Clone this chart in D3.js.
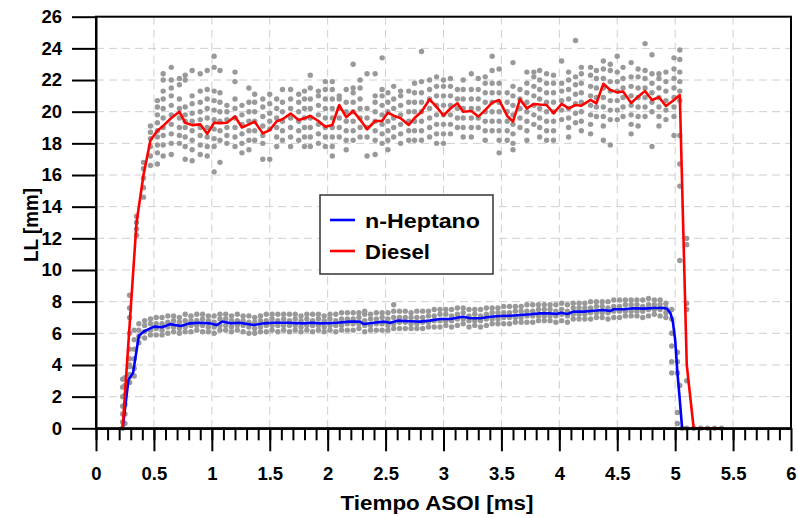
<!DOCTYPE html>
<html>
<head>
<meta charset="utf-8">
<script src="https://cdn.jsdelivr.net/npm/d3@7"></script>
<style>
  body { margin: 0; background: #fff; }
  text { font-family: "Liberation Sans", Arial, sans-serif; font-weight: bold; fill: #000; }
</style>
</head>
<body>
<svg id="chart" width="798" height="518"></svg>
<script>
// tick labels
const xTicks = [0, 0.5, 1, 1.5, 2, 2.5, 3, 3.5, 4, 4.5, 5, 5.5, 6];
const yTicks = [0, 2, 4, 6, 8, 10, 12, 14, 16, 18, 20, 22, 24, 26];
const seriesNames = ['n-Heptano', 'Diesel'];

// mean curves [time ms, LL mm]
const heptaneLine = [
  [0.23, 0], [0.28, 3.05], [0.32, 3.5], [0.37, 5.85], [0.41, 6.1], [0.45, 6.25], [0.50, 6.42],
  [0.57, 6.38], [0.64, 6.58], [0.73, 6.46], [0.81, 6.63], [0.90, 6.67], [0.98, 6.63], [1.04, 6.52],
  [1.09, 6.74], [1.16, 6.63], [1.24, 6.67], [1.36, 6.52], [1.45, 6.63], [1.53, 6.67], [1.65, 6.67],
  [1.79, 6.63], [1.85, 6.67], [1.96, 6.63], [2.08, 6.67], [2.19, 6.74], [2.28, 6.74], [2.31, 6.59],
  [2.40, 6.67], [2.48, 6.74], [2.54, 6.67], [2.60, 6.8], [2.71, 6.76], [2.80, 6.74], [2.88, 6.8],
  [2.97, 6.9], [3.06, 6.9], [3.14, 7.01], [3.17, 7.05], [3.23, 6.95], [3.32, 6.95], [3.40, 7.05],
  [3.49, 7.09], [3.58, 7.11], [3.66, 7.16], [3.75, 7.2], [3.83, 7.26], [3.92, 7.26], [3.98, 7.22],
  [4.01, 7.3], [4.07, 7.22], [4.12, 7.37], [4.21, 7.37], [4.29, 7.43], [4.38, 7.47], [4.44, 7.41],
  [4.47, 7.52], [4.55, 7.52], [4.64, 7.58], [4.73, 7.56], [4.81, 7.6], [4.90, 7.6], [4.93, 7.55],
  [4.96, 7.26], [4.98, 6.74], [5.00, 5.58], [5.02, 3.47], [5.04, 1.79], [5.06, 0]
];

const dieselLine = [
  [0.23, 0], [0.29, 6.5], [0.35, 13.0], [0.41, 16.0], [0.47, 18.2], [0.53, 18.8], [0.58, 19.1],
  [0.65, 19.6], [0.72, 20.0], [0.77, 19.3], [0.83, 19.15], [0.90, 19.2], [0.96, 18.6], [1.02, 19.3],
  [1.07, 19.28], [1.13, 19.3], [1.20, 19.7], [1.26, 19.0], [1.32, 19.2], [1.37, 19.37], [1.44, 18.63],
  [1.50, 18.84], [1.56, 19.4], [1.61, 19.52], [1.68, 19.88], [1.75, 19.48], [1.80, 19.58], [1.85, 19.74],
  [1.92, 19.41], [1.98, 19.05], [2.04, 19.16], [2.10, 20.42], [2.16, 19.65], [2.22, 20.04], [2.28, 19.5],
  [2.34, 18.89], [2.41, 19.41], [2.47, 19.41], [2.52, 19.94], [2.57, 19.75], [2.63, 19.58], [2.70, 19.16],
  [2.75, 19.6], [2.81, 20.0], [2.88, 20.78], [2.94, 20.3], [3.00, 19.76], [3.06, 20.2], [3.12, 20.53],
  [3.17, 20.0], [3.24, 20.04], [3.30, 19.69], [3.36, 20.1], [3.42, 20.57], [3.48, 20.74], [3.55, 19.73],
  [3.60, 19.37], [3.66, 20.78], [3.72, 20.21], [3.78, 20.49], [3.83, 20.45], [3.89, 20.42], [3.95, 19.9],
  [4.02, 20.49], [4.08, 20.21], [4.14, 20.42], [4.19, 20.38], [4.27, 20.74], [4.32, 20.53], [4.38, 21.76],
  [4.44, 21.37], [4.50, 21.22], [4.55, 21.27], [4.62, 20.55], [4.68, 20.95], [4.74, 21.3], [4.80, 20.74],
  [4.86, 20.91], [4.92, 20.36], [4.99, 20.74], [5.04, 21.05], [5.10, 4.0], [5.16, 0], [5.22, 0],
  [5.28, 0], [5.34, 0], [5.40, 0]
];

// individual shots, one column per frame: [time, "LL values"]
const dieselCloud = [
  [0.23, '0 0.4 0.9 1.4 2.0 2.6 3.1'], [0.29, '3.3 4.0 5.0 6.0 7.0 7.6 8.4'], [0.35, '12.2 12.6 13.0 13.4'],
  [0.41, '14.6 15.2 15.8 16.4 16.8'], [0.47, '16.6 17.2 17.8 18.3 18.7 19.1'],
  [0.53, '16.7 17.4 17.9 18.4 18.8 19.3 19.8 20.3 20.7'], [0.58, '17.2 17.9 18.5 19.0 19.6 20.2 20.8 21.3 22.0 22.4'],
  [0.65, '17.3 18.0 18.6 19.2 19.8 20.4 21.0 21.5 22.0 22.8'], [0.72, '18.0 18.5 19.0 19.6 20.2 20.8 21.7 22.1'],
  [0.77, '17.0 17.8 18.4 19.0 19.4 19.8 20.3 22.0 22.3'], [0.83, '16.9 17.6 18.2 18.8 19.4 19.9 20.5 21.0 22.6'],
  [0.90, '17.3 17.9 18.5 19.0 19.5 20.0 20.6 21.3 22.4'], [0.96, '17.2 17.8 18.4 19.0 19.6 20.2 20.8 21.4 22.6'],
  [1.02, '16.2 17.8 18.3 18.9 19.5 20.1 20.7 21.3 22.8 23.5'], [1.07, '16.8 18.2 18.8 19.4 20.0 20.6 21.2 22.6'],
  [1.13, '18.0 18.5 19.0 19.5 20.0 20.4'], [1.20, '17.8 18.4 19.0 19.6 20.2 20.8 21.9 22.5'],
  [1.26, '17.4 18.0 18.6 19.2 19.8 20.4'], [1.32, '17.6 18.2 18.8 19.4 20.0 20.6 21.5'],
  [1.37, '18.2 18.8 19.4 20.0 20.6 21.1'], [1.44, '17.0 18.0 18.5 19.1 19.7 20.3 20.8'],
  [1.50, '17.0 18.9 19.4 19.9 20.5 21.1'], [1.56, '17.8 18.4 19.0 19.6 20.2 20.8'],
  [1.61, '18.2 18.8 19.4 20.0 20.6 21.4'], [1.68, '17.8 18.4 19.0 19.6 20.2 20.8 21.4'],
  [1.75, '18.2 18.8 19.4 20.0 20.6 21.1'], [1.80, '17.8 18.4 19.0 19.6 20.2 20.8 21.3'],
  [1.85, '17.8 18.4 19.0 19.6 20.2 20.8 21.5 22.3'], [1.92, '18.0 18.6 19.2 19.8 20.4 21.0 21.3'],
  [1.98, '17.8 18.4 19.0 19.6 20.2 20.8 21.4 21.9'], [2.04, '17.2 17.8 18.4 19.0 19.6 20.2 20.8 21.4 21.9'],
  [2.10, '18.4 19.0 19.6 20.2 20.8 21.0'], [2.16, '17.6 18.2 18.8 19.4 20.0 20.6 21.4'],
  [2.22, '18.2 18.8 19.4 20.0 20.6 21.2 21.5 23.0'], [2.28, '18.4 19.0 19.6 20.2 20.8 21.5 22.0'],
  [2.34, '17.2 18.4 19.0 19.6 20.2 22.4'], [2.41, '17.3 18.2 18.8 19.4 20.0 20.6 21.0 22.4'],
  [2.47, '18.0 18.6 19.2 19.8 20.4 21.0 21.4 23.4'], [2.52, '17.6 18.2 18.8 19.4 20.0 20.6 21.2'],
  [2.57, '18.4 19.0 19.6 20.2 20.8 21.6'], [2.63, '18.0 18.6 19.2 19.8 20.4 21.0 21.3'],
  [2.70, '18.2 18.8 19.4 20.0 20.6 21.3'], [2.75, '18.2 18.8 19.4 20.0 20.6 21.2 21.8'],
  [2.81, '18.2 18.8 19.4 20.0 20.6 21.2 21.9 23.8'], [2.88, '18.4 19.0 19.6 20.2 20.8 21.4 22.0'],
  [2.94, '18.0 18.6 19.2 19.8 20.4 21.0 21.6 22.2'], [3.00, '18.0 18.6 19.2 19.8 20.4 21.0 21.6 22.0'],
  [3.06, '18.6 19.2 19.8 20.4 21.0 21.6 22.1'], [3.12, '19.0 19.6 20.2 20.8 21.4'],
  [3.17, '18.4 19.0 19.6 20.2 20.8 21.4 22.0'], [3.24, '18.4 19.0 19.6 20.2 20.8 21.4 22.4'],
  [3.30, '19.0 19.6 20.2 20.8 21.4 22.1'], [3.36, '18.2 18.8 19.4 20.0 20.6 21.2 21.8 22.2'],
  [3.42, '18.8 19.4 20.0 20.6 21.2 21.8 22.6 23.5'], [3.48, '17.4 18.2 18.8 19.4 20.0 20.6 21.2 21.8 22.7'],
  [3.55, '18.2 18.8 19.4 20.0 20.6 21.2'], [3.60, '17.6 18.0 18.6 19.2 19.8 20.4 21.0 21.6 23.1'],
  [3.66, '19.0 19.6 20.2 20.8 21.4'], [3.72, '18.2 18.8 19.4 20.0 20.6 21.2 21.8 22.5'],
  [3.78, '19.2 19.8 20.4 21.0 21.6 22.2 22.5'], [3.83, '18.4 19.0 19.6 20.2 20.8 21.4 22.0 22.6'],
  [3.89, '18.2 18.8 19.4 20.0 20.6 21.2 21.8 22.4'], [3.95, '18.2 18.8 19.4 20.0 20.6 21.2 21.8 22.3'],
  [4.02, '19.5 20.1 20.7 21.3 21.8 23.2'], [4.08, '18.4 19.0 19.6 20.2 20.8 21.4 22.0 22.5'],
  [4.14, '19.3 19.9 20.5 21.1 21.7 22.2 24.5'], [4.19, '18.8 19.4 20.0 20.6 21.2 21.8 22.4 22.8'],
  [4.27, '18.6 19.2 19.8 20.4 21.0 21.6 22.3 22.8'], [4.32, '19.7 20.3 20.9 21.5 22.1 22.6'],
  [4.38, '18.2 19.1 19.7 20.3 20.9 21.5 22.1 22.7 23.2'], [4.44, '17.9 19.5 20.1 20.7 21.3 21.9 22.6 23.0'],
  [4.50, '19.5 20.1 20.7 21.3 21.9 22.5 23.5'], [4.55, '19.7 20.3 20.9 21.5 22.1 22.8'],
  [4.62, '18.6 19.2 19.8 20.4 21.0 21.6 22.2 23.1'], [4.68, '19.1 19.7 20.3 20.9 21.5 22.2 22.7'],
  [4.74, '19.7 20.3 20.9 21.5 22.1 22.6 24.3'], [4.80, '17.8 20.0 20.6 21.2 21.8 22.4 23.6'],
  [4.86, '19.1 19.7 20.3 20.9 21.5 22.1 22.4'], [4.92, '19.5 20.1 20.7 21.3 21.9 22.5'],
  [4.99, '18.5 19.7 20.3 20.9 21.5 22.1 22.7 23.4'], [5.04, '2.7 10.6 15.3 16.7 18.5 20.7 21.3 21.9 22.5 23.3 23.9'],
  [5.10, '0 3.0 7.5 7.9 11.6 12.0'], [5.16, '0'], [5.22, '0'], [5.28, '0'], [5.34, '0'], [5.40, '0']
];

const heptaneCloud = [
  [0.25, '0.3 0.9 1.5 2.1 2.7 3.2'], [0.29, '2.9 3.4 3.9 4.4'], [0.33, '3.3 3.8 4.4 5.0 5.6 6.2'],
  [0.37, '5.4 5.8 6.2 6.6'], [0.42, '5.7 6.1 6.5 6.8'], [0.47, '5.9 6.2 6.6 6.9'], [0.52, '5.9 6.3 6.6 7.0'],
  [0.57, '5.9 6.2 6.6 7.0'], [0.62, '6.0 6.4 6.7 7.1'], [0.67, '6.1 6.4 6.8 7.1'], [0.72, '6.0 6.3 6.7 7.0'],
  [0.77, '6.1 6.4 6.8 7.2'], [0.82, '6.1 6.5 6.8 7.1'], [0.87, '6.2 6.5 6.8 7.2'], [0.92, '6.1 6.5 6.9 7.2'],
  [0.97, '6.1 6.4 6.8 7.1'], [1.02, '6.0 6.4 6.7 7.1'], [1.07, '6.2 6.5 6.9 7.2'], [1.12, '6.2 6.5 6.9 7.2'],
  [1.17, '6.1 6.4 6.8 7.1'], [1.22, '6.2 6.5 6.8 7.2'], [1.27, '6.1 6.5 6.8 7.1'], [1.32, '6.0 6.4 6.7 7.1'],
  [1.37, '6.0 6.3 6.7 7.0'], [1.42, '6.1 6.4 6.8 7.1'], [1.47, '6.1 6.5 6.8 7.2'], [1.52, '6.2 6.5 6.9 7.2'],
  [1.57, '6.1 6.5 6.8 7.2'], [1.62, '6.2 6.5 6.9 7.2'], [1.67, '6.1 6.5 6.8 7.2'], [1.72, '6.2 6.5 6.9 7.2'],
  [1.77, '6.1 6.4 6.8 7.1'], [1.82, '6.2 6.5 6.9 7.2'], [1.87, '6.1 6.5 6.8 7.2'], [1.92, '6.2 6.5 6.9 7.2'],
  [1.97, '6.1 6.4 6.8 7.1'], [2.02, '6.2 6.5 6.9 7.2'], [2.07, '6.1 6.5 6.8 7.2'], [2.12, '6.2 6.5 6.9 7.3'],
  [2.17, '6.2 6.6 6.9 7.3'], [2.22, '6.2 6.6 6.9 7.3'], [2.27, '6.3 6.6 7.0 7.3'], [2.32, '6.1 6.5 6.8 7.2 7.4'],
  [2.37, '6.2 6.5 6.9 7.2'], [2.42, '6.2 6.6 6.9 7.3'], [2.47, '6.2 6.6 7.0 7.3'], [2.52, '6.2 6.5 6.9 7.3'],
  [2.57, '6.3 6.6 7.0 7.4 7.8'], [2.62, '6.3 6.7 7.0 7.4'], [2.67, '6.3 6.7 7.0 7.4'], [2.72, '6.3 6.6 7.0 7.3'],
  [2.77, '6.3 6.6 7.0 7.4'], [2.82, '6.3 6.7 7.0 7.4'], [2.87, '6.4 6.7 7.1 7.4'], [2.92, '6.4 6.8 7.1 7.5'],
  [2.97, '6.4 6.8 7.2 7.5'], [3.02, '6.5 6.8 7.2 7.5'], [3.07, '6.4 6.8 7.1 7.5'], [3.12, '6.5 6.9 7.2 7.6'],
  [3.17, '6.6 6.9 7.3 7.6'], [3.22, '6.4 6.8 7.1 7.5'], [3.27, '6.5 6.8 7.2 7.5'], [3.32, '6.4 6.8 7.1 7.5'],
  [3.37, '6.5 6.9 7.2 7.6'], [3.42, '6.6 6.9 7.3 7.6'], [3.47, '6.6 6.9 7.3 7.6'], [3.52, '6.6 7.0 7.3 7.7'],
  [3.57, '6.6 7.0 7.3 7.7'], [3.62, '6.7 7.0 7.4 7.7'], [3.67, '6.7 7.0 7.4 7.7'], [3.72, '6.7 7.1 7.4 7.8'],
  [3.77, '6.7 7.1 7.4 7.8'], [3.82, '6.8 7.1 7.5 7.8'], [3.87, '6.8 7.1 7.5 7.8'], [3.92, '6.8 7.1 7.5 7.8'],
  [3.97, '6.7 7.1 7.4 7.8'], [4.02, '6.8 7.2 7.5 7.9'], [4.07, '6.7 7.1 7.4 7.8'], [4.12, '6.9 7.2 7.6 7.9'],
  [4.17, '6.9 7.2 7.6 7.9'], [4.22, '6.9 7.2 7.6 7.9'], [4.27, '6.9 7.3 7.6 8.0'], [4.32, '7.0 7.3 7.7 8.0'],
  [4.37, '7.0 7.3 7.7 8.0'], [4.42, '6.9 7.3 7.6 8.0'], [4.47, '7.0 7.4 7.7 8.1'], [4.52, '7.0 7.4 7.7 8.1'],
  [4.57, '7.1 7.4 7.8 8.1'], [4.62, '7.1 7.4 7.8 8.1'], [4.67, '7.1 7.4 7.8 8.1'], [4.72, '7.0 7.4 7.7 8.1'],
  [4.77, '7.1 7.5 7.8 8.2'], [4.82, '7.2 7.5 7.8 8.1'], [4.87, '7.1 7.5 7.8 8.1'], [4.92, '7.0 7.3 7.6 7.9'],
  [4.97, '3.5 4.2 5.2 6.0 6.9 7.5'], [5.02, '0.3 1.0 3.5 4.2 4.8'], [5.06, '0']
];

const svg = d3.select('#chart');

const x = d3.scaleLinear().domain([0, 6]).range([96, 791]);
const y = d3.scaleLinear().domain([0, 26]).range([428.3, 16.7]);

// dashed grid
const grid = svg.append('g').attr('stroke', '#cfcfcf').attr('stroke-width', 1).attr('stroke-dasharray', '8,5');
grid.selectAll('.gx').data(xTicks.slice(1, -1)).enter().append('line')
  .attr('x1', (d) => x(d)).attr('x2', (d) => x(d)).attr('y1', y(26)).attr('y2', y(0));
grid.selectAll('.gy').data(yTicks.slice(1, -1)).enter().append('line')
  .attr('x1', x(0)).attr('x2', x(6)).attr('y1', (d) => y(d)).attr('y2', (d) => y(d));

// scatter of shots
const cloud = [];
heptaneCloud.concat(dieselCloud).forEach((c) => {
  c[1].split(' ').forEach((v) => cloud.push([c[0], +v]));
});
svg.append('g').selectAll('circle').data(cloud).enter().append('circle')
  .attr('cx', (d) => x(d[0])).attr('cy', (d) => y(d[1])).attr('r', 2.7).attr('fill', '#999');

// mean lines
const line = d3.line().x((d) => x(d[0])).y((d) => y(d[1]));
svg.append('path').datum(heptaneLine).attr('d', line)
  .attr('fill', 'none').attr('stroke', '#0000ff').attr('stroke-width', 2.6).attr('stroke-linejoin', 'round');
svg.append('path').datum(dieselLine).attr('d', line)
  .attr('fill', 'none').attr('stroke', '#ff0000').attr('stroke-width', 2.6).attr('stroke-linejoin', 'round');

// frame
svg.append('rect').attr('x', x(0)).attr('y', y(26)).attr('width', x(6) - x(0)).attr('height', y(0) - y(26))
  .attr('fill', 'none').attr('stroke', '#000').attr('stroke-width', 2);

// axes
const yAxis = d3.axisLeft(y).tickValues(yTicks).tickSize(24).tickSizeOuter(0).tickPadding(10);
const gy = svg.append('g').attr('transform', `translate(${x(0)},0)`).call(yAxis);
const xMinor = d3.axisBottom(x).tickValues(d3.range(0, 60).map((i) => i / 10)).tickSize(12).tickSizeOuter(0).tickFormat('');
svg.append('g').attr('transform', `translate(0,${y(0)})`).call(xMinor);
const xAxis = d3.axisBottom(x).tickValues(xTicks).tickSize(23).tickSizeOuter(0).tickPadding(16).tickFormat(d3.format('~g'));
const gx = svg.append('g').attr('transform', `translate(0,${y(0)})`).call(xAxis);

svg.selectAll('.domain').attr('stroke', '#000').attr('stroke-width', 2);
svg.selectAll('.tick line').attr('stroke', '#000').attr('stroke-width', 2);
gy.selectAll('text').style('font-size', '18.5px').attr('font-family', null);
gx.selectAll('text').style('font-size', '18.5px').attr('font-family', null);

// axis titles
svg.append('text').attr('x', 437).attr('y', 510).attr('text-anchor', 'middle')
  .attr('textLength', 193).attr('lengthAdjust', 'spacingAndGlyphs')
  .style('font-size', '20px').text('Tiempo ASOI [ms]');
svg.append('text').attr('transform', 'translate(38,225) rotate(-90)').attr('text-anchor', 'middle')
  .attr('textLength', 74).attr('lengthAdjust', 'spacingAndGlyphs')
  .style('font-size', '19.5px').text('LL [mm]');

// legend
const lg = svg.append('g').attr('transform', 'translate(320,195)');
lg.append('rect').attr('width', 173).attr('height', 79).attr('fill', '#fff').attr('stroke', '#333').attr('stroke-width', 1.5);
const legendColors = ['#0000ff', '#ff0000'];
const legendWidths = [115, 65];
seriesNames.forEach((name, i) => {
  const yy = 25 + i * 31;
  lg.append('line').attr('x1', 10).attr('x2', 35).attr('y1', yy).attr('y2', yy)
    .attr('stroke', legendColors[i]).attr('stroke-width', 2.6);
  lg.append('text').attr('x', 45).attr('y', yy + 7.5)
    .attr('textLength', legendWidths[i]).attr('lengthAdjust', 'spacingAndGlyphs')
    .style('font-size', '21px').text(name);
});
</script>
</body>
</html>
